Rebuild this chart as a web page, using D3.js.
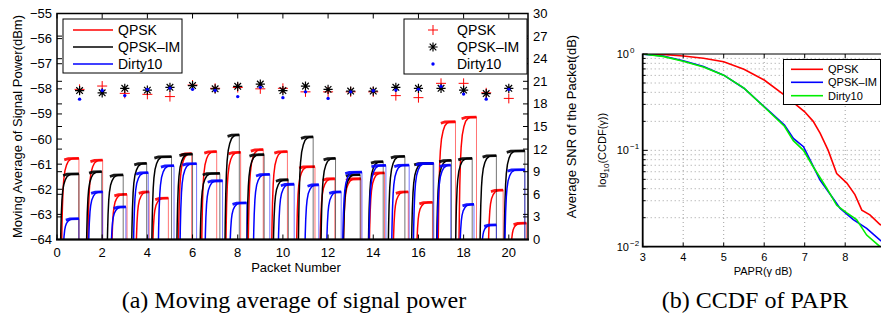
<!DOCTYPE html>
<html>
<head>
<meta charset="utf-8">
<script src="https://cdn.jsdelivr.net/npm/d3@7"></script>
<style>
  body { margin: 0; background: #fff; }
  svg text { font-family: "Liberation Sans", Arial, sans-serif; fill: #000; }
  .caption { font-family: "Liberation Serif", "Times New Roman", serif; font-size: 24px; }
</style>
</head>
<body>
<svg id="chart" width="881" height="313"></svg>
<script>
// ---- (a) moving average of signal power ----
// each packet: [rise start, drop, plateau level (dBm)]
const qpskPower = [
    [0.20, 0.97, -60.77], [1.36, 2.02, -60.84], [2.42, 3.10, -62.20], [3.50, 4.08, -62.10],
    [4.23, 4.93, -62.35], [5.37, 5.96, -60.58], [6.40, 7.07, -60.50], [7.47, 8.13, -60.53],
    [8.46, 9.13, -60.42], [9.50, 10.20, -60.50], [10.60, 11.42, -61.10], [11.64, 12.30, -61.58],
    [12.67, 13.45, -61.58], [13.82, 14.50, -61.35], [14.88, 15.55, -62.10], [15.92, 16.62, -62.52],
    [16.87, 17.64, -59.31], [17.79, 18.57, -59.13], [19.09, 19.75, -62.03], [20.09, 20.78, -63.35]
];
const qpskImPower = [
    [0.15, 0.97, -61.39], [1.30, 1.98, -61.30], [2.22, 2.93, -61.43], [3.30, 3.97, -60.97],
    [4.19, 5.07, -60.70], [5.30, 6.00, -60.60], [6.33, 7.21, -61.37], [7.43, 8.07, -59.83],
    [8.40, 9.17, -60.62], [9.57, 10.24, -61.62], [10.68, 11.34, -59.91], [11.68, 12.33, -60.77],
    [12.67, 13.42, -61.42], [13.78, 14.44, -60.90], [14.66, 15.40, -60.69], [15.69, 16.65, -60.97],
    [16.80, 17.46, -60.85], [17.64, 18.38, -60.77], [18.72, 19.45, -60.66], [19.79, 20.71, -60.47]
];
const dirtyPower = [
    [0.27, 0.97, -63.17], [1.39, 2.02, -62.10], [2.39, 3.05, -62.70], [3.38, 4.04, -61.34],
    [4.48, 5.18, -61.06], [5.44, 6.18, -60.98], [6.55, 7.33, -61.66], [7.65, 8.39, -62.54],
    [8.69, 9.42, -61.41], [9.79, 10.50, -61.80], [10.97, 11.59, -61.82], [11.93, 12.58, -62.10],
    [12.64, 13.50, -61.32], [13.80, 14.56, -61.05], [14.81, 15.59, -61.04], [15.77, 16.68, -60.97],
    [16.82, 17.43, -61.04], [17.83, 18.46, -62.60], [18.79, 19.45, -63.42], [19.82, 20.71, -61.22]
];
// shape of the moving-average ramp: x offset after rise start, share of the climb done
const riseDx = [0, 0.02, 0.04, 0.07, 0.10, 0.15, 0.22, 0.30, 0.40, 0.50];
const riseFrac = [0, 0.30, 0.50, 0.68, 0.78, 0.87, 0.93, 0.97, 0.99, 1];

// average SNR of each packet (dB, right axis)
const packetNo = [1, 2, 3, 4, 5, 6, 7, 8, 9, 10, 11, 12, 13, 14, 15, 16, 17, 18, 19, 20];
const qpskSnr = [19.93, 20.37, 19.40, 19.27, 18.97, 20.50, 20.07, 20.17, 20.00, 20.07,
                 19.60, 19.60, 19.60, 19.60, 19.10, 18.83, 20.73, 20.73, 19.47, 18.73];
const qpskImSnr = [19.77, 19.47, 20.07, 19.83, 20.20, 20.43, 20.00, 20.33, 20.63, 19.77,
                   20.37, 19.93, 19.70, 19.70, 20.20, 20.07, 20.07, 19.83, 19.37, 20.07];
const dirtySnr = [18.63, 19.77, 19.10, 19.93, 20.10, 19.93, 19.77, 18.97, 20.20, 18.83,
                  19.60, 18.73, 19.60, 19.75, 19.83, 19.93, 20.33, 19.30, 18.63, 19.93];

const powerTicks = [-64, -63, -62, -61, -60, -59, -58, -57, -56, -55];
const snrTicks = [0, 3, 6, 9, 12, 15, 18, 21, 24, 27, 30];
const packetTicks = [0, 2, 4, 6, 8, 10, 12, 14, 16, 18, 20];
const seriesNames = ["QPSK", "QPSK\u2013IM", "Dirty10"];

// ---- (b) CCDF of PAPR ----
const qpskPaprX = [3, 3.5, 4, 4.5, 5, 5.5, 6, 6.5, 7, 7.21, 7.38, 7.58, 7.79, 8.04, 8.24, 8.41, 8.61, 8.86, 9];
const qpskCcdf = [1, 0.99, 0.953, 0.902, 0.832, 0.693, 0.537, 0.375, 0.251, 0.2, 0.151, 0.1,
                  0.0575, 0.0457, 0.0347, 0.024, 0.0214, 0.017, 0.016];
const qpskImPaprX = [3, 3.5, 4, 4.5, 5, 5.5, 6, 6.5, 6.72, 6.97, 7.11, 7.38, 7.62, 7.87, 8.2, 8.53, 8.86, 9];
const qpskImCcdf = [0.993, 0.953, 0.851, 0.741, 0.603, 0.441, 0.284, 0.183, 0.133, 0.109, 0.083,
                    0.049, 0.0355, 0.0251, 0.0191, 0.0155, 0.0117, 0.0108];
const dirtyPaprX = [3, 3.5, 4, 4.5, 5, 5.5, 6, 6.5, 6.72, 6.97, 7.21, 7.54, 7.79, 8.04, 8.28, 8.53, 8.86, 9];
const dirtyCcdf = [1, 0.944, 0.841, 0.733, 0.603, 0.442, 0.282, 0.178, 0.126, 0.1, 0.0676,
                   0.0407, 0.0269, 0.0224, 0.0191, 0.0132, 0.0100, 0.0094];
const paprTicks = [3, 4, 5, 6, 7, 8];
const ccdfMajor = [0.01, 0.1, 1];
const ccdfMinor = [0.02, 0.03, 0.04, 0.05, 0.06, 0.07, 0.08, 0.09, 0.2, 0.3, 0.4, 0.5, 0.6, 0.7, 0.8, 0.9];

const svg = d3.select("#chart");

// ================= panel (a) =================
const x = d3.scaleLinear().domain([0, 20.85]).range([57, 528]);
const yPow = d3.scaleLinear().domain([-64, -55]).range([239.5, 13.5]);
const ySnr = d3.scaleLinear().domain([0, 30]).range([239.5, 13.5]);

svg.append("clipPath").attr("id", "clipA")
    .append("rect").attr("x", 57).attr("y", 13.5).attr("width", 471).attr("height", 226);

const line = d3.line().x(d => x(d[0])).y(d => yPow(d[1]));
const floorDb = -64.6;

function risePoints(seg) {
    const [t0, t1, lvl] = seg;
    const pts = riseDx.map((dx, i) => [t0 + dx, floorDb + (lvl - floorDb) * riseFrac[i]])
        .filter(p => p[0] < t1);
    pts.push([t1, lvl]);
    return pts;
}

const traces = svg.append("g").attr("clip-path", "url(#clipA)");
[[qpskPower, "#ff0000"], [qpskImPower, "#000000"], [dirtyPower, "#0000ff"]].forEach(([segs, color]) => {
    const g = traces.append("g");
    // ramp + plateau
    g.selectAll(null).data(segs).enter().append("path")
        .attr("d", d => line(risePoints(d)))
        .attr("fill", "none").attr("stroke", color)
        .attr("stroke-width", 1.5).attr("stroke-linejoin", "round");
    // noisy plateau band
    g.selectAll(null).data(segs).enter().append("path")
        .attr("d", d => line([[d[0] + 0.12, d[2] - 0.06], [d[0] + 0.3, d[2] - 0.01], [d[1], d[2]]]))
        .attr("fill", "none").attr("stroke", color)
        .attr("stroke-width", 2.8).attr("opacity", 0.9);
    // drop at the end of the packet
    g.selectAll(null).data(segs).enter().append("path")
        .attr("d", d => line([[d[1], d[2]], [d[1], floorDb]]))
        .attr("fill", "none").attr("stroke", color)
        .attr("stroke-width", 1).attr("opacity", 0.55);
});

// SNR markers
const mk = svg.append("g");
packetNo.forEach((p, i) => {
    const cx = x(p);
    let cy = ySnr(qpskSnr[i]);
    mk.append("path")
        .attr("d", `M${cx - 5},${cy}H${cx + 5}M${cx},${cy - 5}V${cy + 5}`)
        .attr("stroke", "#ff0000").attr("stroke-width", 1);
    cy = ySnr(qpskImSnr[i]);
    const r = 4.6, q = 3.3;
    mk.append("path")
        .attr("d", `M${cx - r},${cy}H${cx + r}M${cx},${cy - r}V${cy + r}` +
                   `M${cx - q},${cy - q}L${cx + q},${cy + q}M${cx - q},${cy + q}L${cx + q},${cy - q}`)
        .attr("stroke", "#000").attr("stroke-width", 1.2);
    mk.append("circle")
        .attr("cx", cx).attr("cy", ySnr(dirtySnr[i])).attr("r", 1.7)
        .attr("fill", "#0000ff");
});

// frame and ticks
const axA = svg.append("g");
axA.append("rect").attr("x", 57).attr("y", 13.5).attr("width", 471).attr("height", 226)
    .attr("fill", "none").attr("stroke", "#000").attr("stroke-width", 1.5);
axA.append("line").attr("x1", 56).attr("x2", 529).attr("y1", 239.5).attr("y2", 239.5)
    .attr("stroke", "#000").attr("stroke-width", 2);

powerTicks.forEach(v => {
    const ty = yPow(v);
    axA.append("path").attr("d", `M57,${ty}h5M528,${ty}h-5`).attr("stroke", "#000");
    axA.append("text").attr("x", 52).attr("y", ty + 4.5).attr("text-anchor", "end")
        .attr("font-size", 13).text(d3.format("d")(v));
});
snrTicks.forEach(v => {
    const ty = ySnr(v);
    axA.append("path").attr("d", `M57,${ty}h5M528,${ty}h-5`).attr("stroke", "#000");
    axA.append("text").attr("x", 533).attr("y", ty + 4.5).attr("font-size", 13).text(v);
});
packetTicks.forEach(v => {
    const tx = x(v);
    axA.append("path").attr("d", `M${tx},239.5v-5M${tx},13.5v5`).attr("stroke", "#000");
    axA.append("text").attr("x", tx).attr("y", 257).attr("text-anchor", "middle")
        .attr("font-size", 13).text(v);
});

axA.append("text").attr("x", 296).attr("y", 272).attr("text-anchor", "middle")
    .attr("font-size", 13).text("Packet Number");
axA.append("text").attr("transform", "translate(22,126.5) rotate(-90)").attr("text-anchor", "middle")
    .attr("font-size", 13).text("Moving Average of Signal Power(dBm)");
axA.append("text").attr("transform", "translate(576,126.5) rotate(-90)").attr("text-anchor", "middle")
    .attr("font-size", 13).text("Average SNR of the Packet(dB)");

// legends
const rows = [30, 47, 64];
const legL = svg.append("g");
legL.append("rect").attr("x", 63).attr("y", 19).attr("width", 119).attr("height", 54)
    .attr("fill", "#fff").attr("stroke", "#000");
["#ff0000", "#000000", "#0000ff"].forEach((c, i) => {
    legL.append("line").attr("x1", 73).attr("x2", 113).attr("y1", rows[i]).attr("y2", rows[i])
        .attr("stroke", c).attr("stroke-width", 1.3);
    legL.append("text").attr("x", 118).attr("y", rows[i] + 5).attr("font-size", 14).text(seriesNames[i]);
});

const legR = svg.append("g");
legR.append("rect").attr("x", 404).attr("y", 19).attr("width", 123).attr("height", 55)
    .attr("fill", "#fff").attr("stroke", "#000");
legR.append("path").attr("d", `M428,${rows[0]}h10M433,${rows[0] - 5}v10`).attr("stroke", "#ff0000");
legR.append("path")
    .attr("d", `M428.4,${rows[1]}h9.2M433,${rows[1] - 4.6}v9.2M429.7,${rows[1] - 3.3}l6.6,6.6M429.7,${rows[1] + 3.3}l6.6,-6.6`)
    .attr("stroke", "#000").attr("stroke-width", 1.2);
legR.append("circle").attr("cx", 433).attr("cy", rows[2]).attr("r", 1.7).attr("fill", "#0000ff");
seriesNames.forEach((n, i) => {
    legR.append("text").attr("x", 457).attr("y", rows[i] + 5).attr("font-size", 14).text(n);
});

// ================= panel (b) =================
const xb = d3.scaleLinear().domain([3, 9]).range([642.7, 885.7]);
const yb = d3.scaleLog().domain([0.01, 1]).range([246.7, 54]);

svg.append("clipPath").attr("id", "clipB")
    .append("rect").attr("x", 642.7).attr("y", 54).attr("width", 243).attr("height", 192.7);

const grid = svg.append("g").attr("stroke", "#888").attr("stroke-width", 0.8).attr("stroke-dasharray", "1,3");
paprTicks.slice(1).forEach(v => {
    grid.append("line").attr("x1", xb(v)).attr("x2", xb(v)).attr("y1", 54).attr("y2", 246.7);
});
ccdfMinor.concat([0.1]).forEach(v => {
    grid.append("line").attr("x1", 642.7).attr("x2", 881).attr("y1", yb(v)).attr("y2", yb(v));
});

const lineB = d3.line().x(d => xb(d[0])).y(d => yb(d[1]));
const curves = svg.append("g").attr("clip-path", "url(#clipB)");
[[qpskPaprX, qpskCcdf, "#ff0000"], [qpskImPaprX, qpskImCcdf, "#0000ff"], [dirtyPaprX, dirtyCcdf, "#00ee00"]]
    .forEach(([xs, ys, c]) => {
        curves.append("path")
            .attr("d", lineB(xs.map((v, i) => [v, ys[i]])))
            .attr("fill", "none").attr("stroke", c).attr("stroke-width", 1.6);
    });

const axB = svg.append("g");
axB.append("path").attr("d", "M642.7,54H881").attr("stroke", "#000").attr("stroke-width", 1);
axB.append("path").attr("d", "M642.7,53.5V246.7H881").attr("fill", "none")
    .attr("stroke", "#000").attr("stroke-width", 1.8);
paprTicks.forEach(v => {
    axB.append("path").attr("d", `M${xb(v)},246.7v-4M${xb(v)},54v4`).attr("stroke", "#000");
    axB.append("text").attr("x", xb(v)).attr("y", 261).attr("text-anchor", "middle")
        .attr("font-size", 11).text(v);
});
ccdfMinor.forEach(v => {
    axB.append("path").attr("d", `M642.7,${yb(v)}h3`).attr("stroke", "#000");
});
ccdfMajor.forEach(v => {
    const ty = yb(v);
    axB.append("path").attr("d", `M642.7,${ty}h5`).attr("stroke", "#000");
    axB.append("text").attr("x", 629).attr("y", ty + 4).attr("text-anchor", "end")
        .attr("font-size", 11).text("10");
    axB.append("text").attr("x", 630).attr("y", ty - 1).attr("font-size", 8)
        .text(v === 1 ? "0" : "\u2212" + Math.round(-Math.log10(v)));
});

axB.append("text").attr("x", 763).attr("y", 275).attr("text-anchor", "middle").attr("font-size", 11)
    .text("PAPR(\u03b3 dB)");
const ylab = axB.append("text").attr("transform", "translate(606,150) rotate(-90)")
    .attr("text-anchor", "middle").attr("font-size", 11);
ylab.append("tspan").text("log");
ylab.append("tspan").attr("font-size", 8).attr("dy", 3).text("10");
ylab.append("tspan").attr("dy", -3).text("(CCDF(\u03b3))");

const legB = svg.append("g");
legB.append("rect").attr("x", 783.5).attr("y", 59.5).attr("width", 97).attr("height", 45)
    .attr("fill", "#fff").attr("stroke", "#000");
const rowsB = [69.3, 82.3, 95.7];
["#ff0000", "#0000ff", "#00ee00"].forEach((c, i) => {
    legB.append("line").attr("x1", 791).attr("x2", 823).attr("y1", rowsB[i]).attr("y2", rowsB[i])
        .attr("stroke", c).attr("stroke-width", 1.6);
    legB.append("text").attr("x", 828).attr("y", rowsB[i] + 4).attr("font-size", 11).text(seriesNames[i]);
});

// captions
svg.append("text").attr("class", "caption").attr("x", 294).attr("y", 308).attr("text-anchor", "middle")
    .text("(a) Moving average of signal power");
svg.append("text").attr("class", "caption").attr("x", 755).attr("y", 308).attr("text-anchor", "middle")
    .text("(b) CCDF of PAPR");
</script>
</body>
</html>
